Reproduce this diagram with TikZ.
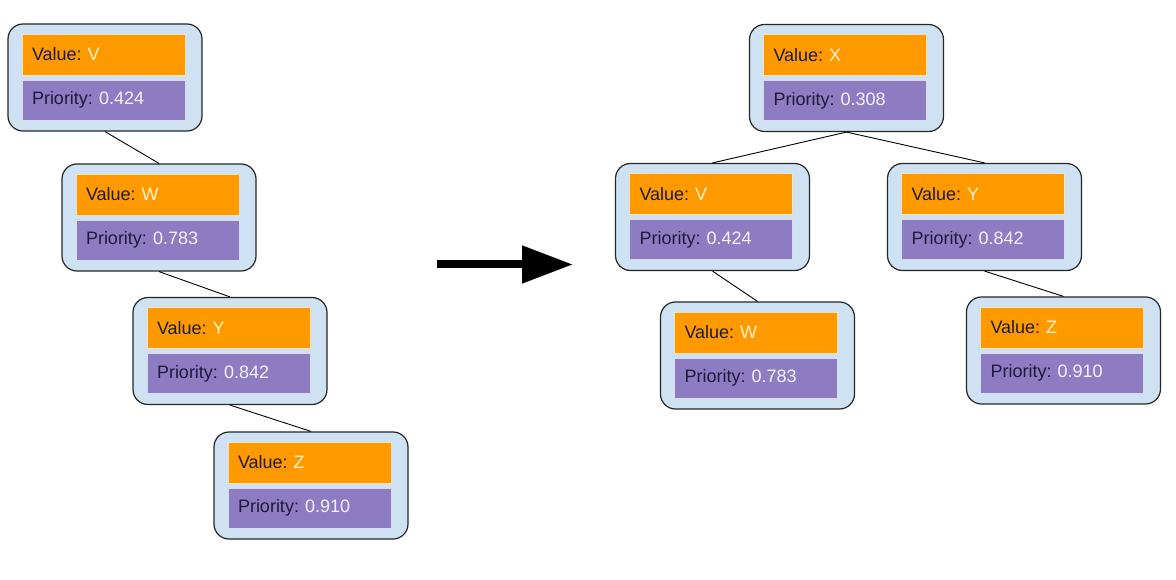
\documentclass[tikz,border=0pt]{standalone}
\usepackage{fontspec}
\setmainfont{Liberation Sans}
\usetikzlibrary{arrows.meta}
\frenchspacing
\definecolor{pqorange}{HTML}{FF9900}
\definecolor{pqpurple}{HTML}{8E7CC3}
\definecolor{pqblue}{HTML}{CFE2F3}
\definecolor{pqlabel}{HTML}{1C1B3A}
\definecolor{pqvalA}{HTML}{FFF2CC}
\definecolor{pqvalB}{HTML}{F4F1FF}
\tikzset{
  outerbox/.style={draw=black!85, line width=1.2pt, fill=pqblue, rounded corners=15pt,
    minimum width=194pt, minimum height=107pt, inner sep=0pt},
  innerbox/.style={line width=0.6pt, minimum width=163pt, minimum height=41pt,
    text width=143pt, align=left, inner sep=0pt, font=\fontsize{18}{21}\selectfont\frenchspacing, text=pqlabel},
  valbox/.style={innerbox, fill=pqorange, draw=white!70!pqorange},
  priobox/.style={innerbox, fill=pqpurple, draw=white!70!pqpurple, minimum height=40pt},
  edge/.style={draw=black, line width=0.9pt},
  bigarrow/.style={draw=black, line width=8pt, -{Triangle[length=51pt,width=36pt]}}
}
\newcommand\pqnode[5]{%
  \node[outerbox] (#1) at (#2,#3) {};
  \node[valbox] (#1-v) at (#2-1.5,#3-23) {Value: \textcolor{pqvalA}{#4}};
  \node[priobox] (#1-p) at (#2-1.5,#3+22.5) {Priority: \textcolor{pqvalB}{#5}};
}
\begin{document}
\begin{tikzpicture}[x=1pt,y=-1pt]
\useasboundingbox[fill=white] (0,0) rectangle (1176,580);
% left chain
\pqnode{lV}{105}{77.5}{V}{0.424}
\pqnode{lW}{159}{217.5}{W}{0.783}
\pqnode{lY}{230}{351}{Y}{0.842}
\pqnode{lZ}{311}{485.5}{Z}{0.910}
% right tree
\pqnode{rX}{846.5}{78}{X}{0.308}
\pqnode{rV}{712.5}{217}{V}{0.424}
\pqnode{rY}{984.5}{217}{Y}{0.842}
\pqnode{rW}{757.5}{355.5}{W}{0.783}
\pqnode{rZ}{1063.5}{350.5}{Z}{0.910}
% edges
\draw[edge] (lV.south) -- (lW.north);
\draw[edge] (lW.south) -- (lY.north);
\draw[edge] (lY.south) -- (lZ.north);
\draw[edge] (rX.south) -- (rV.north);
\draw[edge] (rX.south) -- (rY.north);
\draw[edge] (rV.south) -- (rW.north);
\draw[edge] (rY.south) -- (rZ.north);
% arrow
\coordinate (arrS) at (437,264.5);
\coordinate (arrE) at (573,264.5);
\draw[bigarrow] (arrS) -- (arrE);
\end{tikzpicture}
\end{document}
